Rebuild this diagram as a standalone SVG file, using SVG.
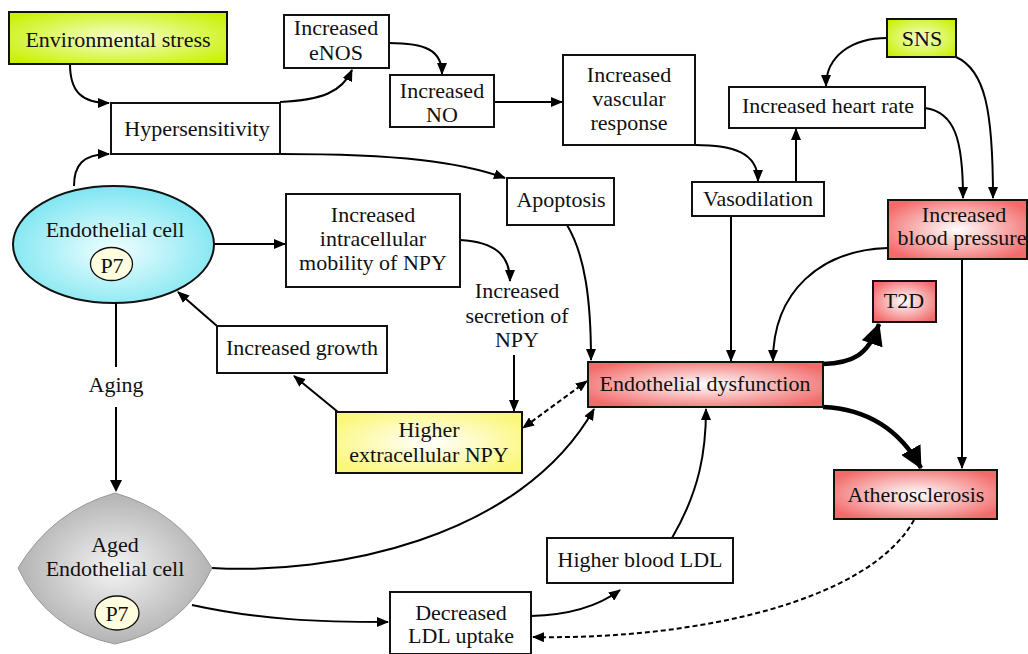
<svg xmlns="http://www.w3.org/2000/svg" width="1028" height="654" viewBox="0 0 1028 654">
<defs>
<radialGradient id="gLime" cx="50%" cy="50%" r="65%"><stop offset="0" stop-color="#f6ffd0"/><stop offset="1" stop-color="#c8f000"/></radialGradient>
<radialGradient id="gRed" cx="50%" cy="50%" r="60%"><stop offset="0" stop-color="#ffffff"/><stop offset="1" stop-color="#f26a6a"/></radialGradient>
<radialGradient id="gCyan" cx="50%" cy="55%" r="60%"><stop offset="0" stop-color="#f0ffff"/><stop offset="1" stop-color="#74e3f0"/></radialGradient>
<radialGradient id="gYel" cx="50%" cy="50%" r="60%"><stop offset="0" stop-color="#ffffff"/><stop offset="1" stop-color="#fbf77a"/></radialGradient>
<radialGradient id="gGray" cx="50%" cy="50%" r="60%"><stop offset="0" stop-color="#f4f4f4"/><stop offset="1" stop-color="#a6a6a6"/></radialGradient>
<marker id="a" markerUnits="userSpaceOnUse" markerWidth="12" markerHeight="10" refX="11" refY="5" orient="auto-start-reverse"><path d="M0,0 L12,5 L0,10 z" fill="#000"/></marker>
<marker id="A" markerUnits="userSpaceOnUse" markerWidth="22" markerHeight="22" refX="21" refY="11" orient="auto"><path d="M0,0 L22,11 L0,22 z" fill="#000"/></marker>
<style>
.box{stroke:#111;stroke-width:2}
.w{fill:#fff}
text{font-family:"Liberation Serif","Times New Roman",serif;font-size:22px;fill:#111;text-anchor:middle}
.c{fill:none;stroke:#000;stroke-width:2;marker-end:url(#a)}
.t{fill:none;stroke:#000;stroke-width:4.5;marker-end:url(#A)}
.d{fill:none;stroke:#000;stroke-width:2;stroke-dasharray:5,3;marker-end:url(#a)}
.p7{fill:#ffffe0;stroke:#111;stroke-width:1.3}
</style>
</defs>
<g id="connectors">
<path class="c" d="M70,64 C70,92 82,103 109,103"/>
<path class="c" d="M74,186 C74,166 82,154 109,154"/>
<path class="c" d="M280,102 C322,100 342,92 352,70"/>
<path class="c" d="M389,43 C425,43 442,50 442,74"/>
<path class="c" d="M494,102 L562,102"/>
<path class="c" d="M280,154 C400,154 460,162 505,178"/>
<path class="c" d="M695,145 C732,145 758,152 758,181"/>
<path class="c" d="M796,182 L796,129"/>
<path class="c" d="M887,38 C852,38 826,56 826,86"/>
<path class="c" d="M925,108 C955,112 963,140 963,198"/>
<path class="c" d="M956,57 C985,70 993,110 993,198"/>
<path class="c" d="M888,248 C820,250 773,292 773,361"/>
<path class="c" d="M731,216 L731,361"/>
<path class="c" d="M962,259 L962,468"/>
<path class="t" d="M823,364 C852,363 868,356 879,324"/>
<path class="t" d="M823,407 C868,409 900,430 921,468"/>
<path class="c" d="M567,225 C585,255 591,300 591,360"/>
<path class="c" d="M214,244 L285,244"/>
<path class="c" d="M460,240 C495,242 510,255 510,281"/>
<path class="c" d="M514,355 L514,411"/>
<path class="c" d="M338,412 L294,376"/>
<path class="c" d="M217,326 L178,292"/>
<path class="d" style="marker-start:url(#a)" d="M587,381 L523,428"/>
<path class="c" d="M212,568 C330,575 520,540 594,409"/>
<path class="c" d="M192,605 C260,620 320,622 388,622"/>
<path class="c" d="M531,616 C570,615 600,605 620,590"/>
<path class="c" d="M672,538 C700,490 706,450 706,409"/>
<path class="d" d="M914,520 C870,600 700,640 533,637"/>
</g>
<g id="env-stress"><rect class="box" x="9" y="12" width="218" height="52" fill="url(#gLime)"/><text x="118" y="47">Environmental stress</text></g>
<g id="hypersensitivity"><rect class="box w" x="111" y="103" width="169" height="51"/><text x="197" y="136">Hypersensitivity</text></g>
<g id="enos"><rect class="box w" x="284" y="15" width="105" height="53"/><text x="336" y="35">Increased</text><text x="336" y="60">eNOS</text></g>
<g id="no"><rect class="box w" x="390" y="75" width="104" height="52"/><text x="442" y="98">Increased</text><text x="442" y="122">NO</text></g>
<g id="vascular"><rect class="box w" x="563" y="55" width="132" height="90"/><text x="629" y="82">Increased</text><text x="629" y="106">vascular</text><text x="629" y="130">response</text></g>
<g id="apoptosis"><rect class="box w" x="507" y="178" width="107" height="47"/><text x="561" y="207">Apoptosis</text></g>
<g id="vasodilation"><rect class="box w" x="692" y="182" width="132" height="34"/><text x="758" y="206">Vasodilation</text></g>
<g id="heart-rate"><rect class="box w" x="729" y="87" width="196" height="41"/><text x="828" y="113">Increased heart rate</text></g>
<g id="sns"><rect class="box" x="887" y="19" width="69" height="38" fill="url(#gLime)"/><text x="922" y="46">SNS</text></g>
<g id="blood-pressure"><rect class="box" x="888" y="200" width="139" height="59" fill="url(#gRed)"/><text x="964" y="222">Increased</text><text x="962" y="245">blood pressure</text></g>
<g id="t2d"><rect class="box" x="873" y="281" width="63" height="41" fill="url(#gRed)"/><text x="904" y="308">T2D</text></g>
<g id="endo-dysfunction"><rect class="box" x="588" y="362" width="235" height="45" fill="url(#gRed)"/><text x="705" y="391">Endothelial dysfunction</text></g>
<g id="atherosclerosis"><rect class="box" x="834" y="470" width="163" height="49" fill="url(#gRed)"/><text x="916" y="502">Atherosclerosis</text></g>
<g id="blood-ldl"><rect class="box w" x="547" y="538" width="186" height="45"/><text x="640" y="567">Higher blood LDL</text></g>
<g id="ldl-uptake"><rect class="box w" x="390" y="592" width="141" height="62"/><text x="461" y="620">Decreased</text><text x="461" y="643">LDL uptake</text></g>
<g id="intracellular"><rect class="box w" x="286" y="194" width="174" height="93"/><text x="373" y="222">Increased</text><text x="373" y="246">intracellular</text><text x="373" y="270">mobility of NPY</text></g>
<g id="secretion"><text x="517" y="298">Increased</text><text x="517" y="323">secretion of</text><text x="517" y="347">NPY</text></g>
<g id="growth"><rect class="box w" x="217" y="326" width="170" height="47"/><text x="302" y="355">Increased growth</text></g>
<g id="extracellular"><rect class="box" x="336" y="412" width="186" height="61" fill="url(#gYel)"/><text x="429" y="437">Higher</text><text x="429" y="462">extracellular NPY</text></g>
<g id="endothelial-cell"><ellipse class="box" cx="113.5" cy="244.5" rx="100.5" ry="58.5" fill="url(#gCyan)"/><text x="115" y="237">Endothelial cell</text><ellipse class="p7" cx="111.5" cy="264" rx="21" ry="16.5"/><text x="112" y="273">P7</text></g>
<g id="aging"><path d="M116,303 L116,367 M116,407 L116,480" fill="none" stroke="#000" stroke-width="2"/><path d="M110,480 L116,492 L122,480 z" fill="#000"/><text x="116" y="392">Aging</text></g>
<g id="aged-cell"><path d="M115,493 Q178,511 212,568 Q183,630 115,644 Q47,630 18,568 Q52,511 115,493 z" fill="url(#gGray)" stroke="#999" stroke-width="1"/><text x="115" y="552">Aged</text><text x="115" y="576">Endothelial cell</text><ellipse class="p7" cx="117" cy="613" rx="22" ry="17"/><text x="117" y="621">P7</text></g>
</svg>
